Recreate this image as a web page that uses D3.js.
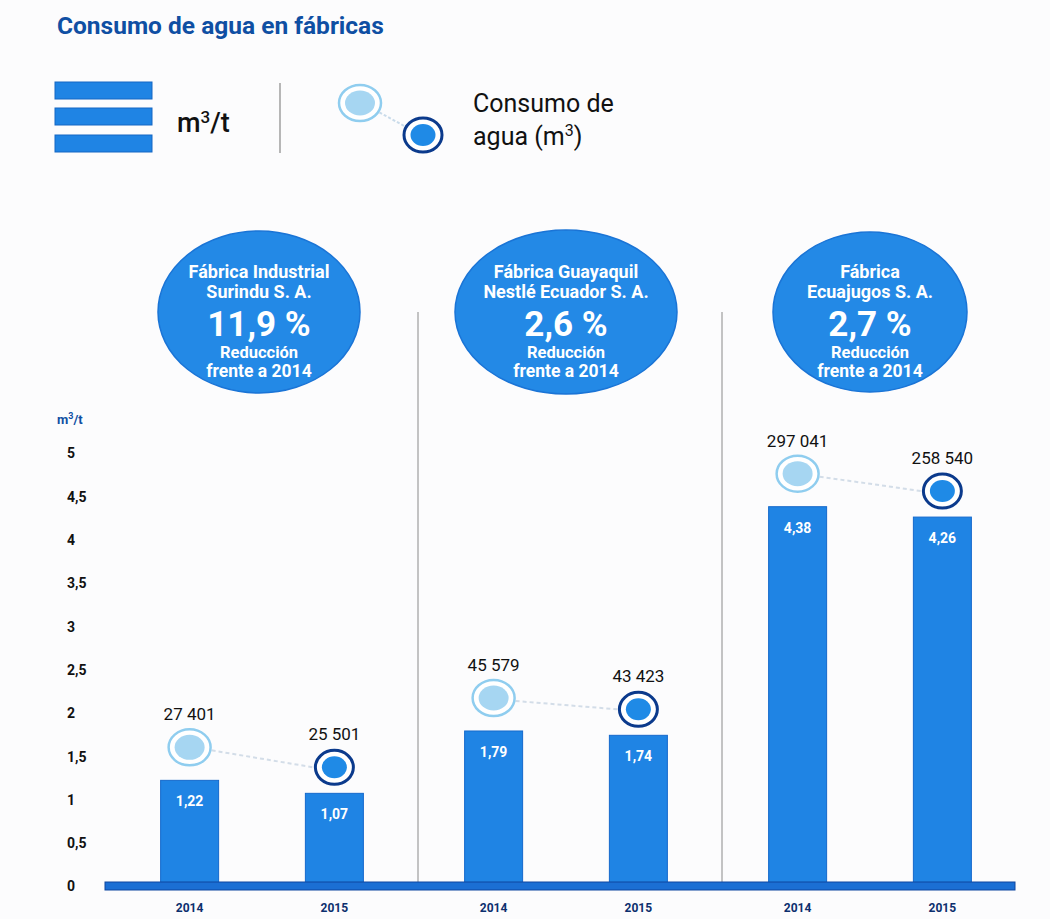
<!DOCTYPE html>
<html><head><meta charset="utf-8">
<script src="https://cdn.jsdelivr.net/npm/d3@7/dist/d3.min.js"></script>
<style>
html,body{margin:0;padding:0;background:#fcfcfd;}
svg{display:block;}
</style></head>
<body>
<svg id="c" width="1050" height="919"></svg>
<script>
// ---- data ----
const factories = ["Surindu", "Guayaquil", "Ecuajugos"];
const factoryNameLines = [
  ["Fábrica Industrial", "Surindu S. A."],
  ["Fábrica Guayaquil", "Nestlé Ecuador S. A."],
  ["Fábrica", "Ecuajugos S. A."]
];
const reductions = ["11,9 %", "2,6 %", "2,7 %"];
const years = ["2014", "2015"];
const ratio2014 = [1.22, 1.79, 4.38];
const ratio2015 = [1.07, 1.74, 4.26];
const water2014 = [27401, 45579, 297041];
const water2015 = [25501, 43423, 258540];
const yTicks = [0, 0.5, 1, 1.5, 2, 2.5, 3, 3.5, 4, 4.5, 5];

// ---- layout ----
const svg = d3.select("#c");
const blue = "#1f84e4", navy = "#0b3a8c", titleBlue = "#0f4fa3";
const sans = "Roboto, 'Liberation Sans', Arial, sans-serif";
const fmtNum = d => d3.format(",")(d).replace(/,/g, " ");
const fmtDec = d => d3.format(".2f")(d).replace(".", ",");
const fmtTick = d => String(d).replace(".", ",");

const y = d3.scaleLinear().domain([0, 5]).range([886, 453]);
const x0 = d3.scaleBand().domain(factories).range([110, 1022]);
const x1 = d3.scalePoint().domain(years).range([0, x0.bandwidth()]).padding(0.55);
const barW = 58;

// title
svg.append("text").attr("x", 57).attr("y", 34).attr("fill", titleBlue)
  .attr("font-family", sans).attr("font-weight", 700).attr("font-size", 24.5).text("Consumo de agua en fábricas");

// legend
const lg = svg.append("g");
[82, 108, 135].forEach(yy => {
  lg.append("rect").attr("x", 55).attr("y", yy).attr("width", 97).attr("height", 17)
    .attr("fill", blue).attr("stroke", "#1566c4").attr("stroke-width", 1);
});
lg.append("text").attr("x", 177).attr("y", 132).attr("font-family", sans).attr("font-size", 27)
  .attr("font-weight", 500).attr("fill", "#111").html('m<tspan dy="-9" font-size="17">3</tspan><tspan dy="9">/t</tspan>');
lg.append("line").attr("x1", 280).attr("x2", 280).attr("y1", 83).attr("y2", 153).attr("stroke", "#888").attr("stroke-width", 1.2);

function marker(g, cx, cy, kind) {
  if (kind === "2014") {
    g.append("ellipse").attr("cx", cx).attr("cy", cy).attr("rx", 21).attr("ry", 18)
      .attr("fill", "#fff").attr("stroke", "#8fcdef").attr("stroke-width", 2.5);
    g.append("ellipse").attr("cx", cx).attr("cy", cy).attr("rx", 15).attr("ry", 12.5).attr("fill", "#a6d6f2");
  } else {
    g.append("ellipse").attr("cx", cx).attr("cy", cy).attr("rx", 19).attr("ry", 17)
      .attr("fill", "#fff").attr("stroke", navy).attr("stroke-width", 3);
    g.append("ellipse").attr("cx", cx).attr("cy", cy).attr("rx", 12.5).attr("ry", 11).attr("fill", "#1f8ae6");
  }
}
lg.append("line").attr("x1", 375).attr("y1", 110).attr("x2", 408).attr("y2", 128)
  .attr("stroke", "#c9dbea").attr("stroke-width", 2).attr("stroke-dasharray", "3,2");
marker(lg, 360, 103, "2014");
marker(lg, 423, 135, "2015");
lg.append("text").attr("x", 473).attr("y", 112).attr("font-family", sans).attr("font-size", 25).attr("fill", "#111").text("Consumo de");
lg.append("text").attr("x", 473).attr("y", 145).attr("font-family", sans).attr("font-size", 25).attr("fill", "#111")
  .html('agua (m<tspan dy="-9" font-size="16">3</tspan><tspan dy="9">)</tspan>');

// y axis label + ticks
svg.append("text").attr("x", 57).attr("y", 424).attr("font-family", sans).attr("font-weight", 700)
  .attr("font-size", 13).attr("fill", titleBlue).html('m<tspan dy="-5" font-size="9">3</tspan><tspan dy="5">/t</tspan>');
const yAxis = d3.axisLeft(y).tickValues(yTicks).tickFormat(fmtTick).tickSize(0);
const ya = svg.append("g").attr("transform", "translate(67,0)").call(yAxis);
ya.select(".domain").remove();
ya.selectAll("text").attr("text-anchor", "start").attr("x", 0).attr("dy", "0.35em")
  .attr("font-family", sans).attr("font-weight", 700).attr("font-size", 14).attr("fill", "#111");

// separators
[1, 2].forEach(i => {
  const xx = x0(factories[i]);
  svg.append("line").attr("x1", xx + 4).attr("x2", xx + 4).attr("y1", 312).attr("y2", 884)
    .attr("stroke", "#8a8a8a").attr("stroke-width", 1);
});

// bubbles
const bubbleDx = [-3, 0, 0];
const bubbleR = [[101, 81], [111, 82], [97, 80]];
factories.forEach((f, i) => {
  const cx = x0(f) + x0.bandwidth() / 2 + bubbleDx[i];
  const cy = 312;
  const g = svg.append("g");
  g.append("ellipse").attr("cx", cx).attr("cy", cy).attr("rx", bubbleR[i][0]).attr("ry", bubbleR[i][1])
    .attr("fill", "#2389e6").attr("stroke", "#1a74d6").attr("stroke-width", 1.5);
  const t = (yy, txt, size) => g.append("text").attr("x", cx).attr("y", yy).attr("text-anchor", "middle")
    .attr("fill", "#fff").attr("font-family", sans).attr("font-weight", 700).attr("font-size", size).text(txt);
  t(278, factoryNameLines[i][0], 18);
  t(298, factoryNameLines[i][1], 18);
  t(336, reductions[i], 35);
  t(358, "Reducción", 16.5);
  t(377, "frente a 2014", 17.5);
});

// bars + markers
const rows = [];
factories.forEach((f, i) => {
  rows.push({ f, year: "2014", r: ratio2014[i], w: water2014[i] });
  rows.push({ f, year: "2015", r: ratio2015[i], w: water2015[i] });
});
const cxOf = d => x0(d.f) + x1(d.year);
const markerY = d => y(d.r) - (d.year === "2014" ? 33 : 26);

svg.append("g").selectAll("rect").data(rows).join("rect")
  .attr("x", d => cxOf(d) - barW / 2).attr("width", barW)
  .attr("y", d => y(d.r)).attr("height", d => y(0) - y(d.r))
  .attr("fill", blue).attr("stroke", "#1569cc").attr("stroke-width", 1);

svg.append("g").selectAll("text").data(rows).join("text")
  .attr("x", cxOf).attr("y", d => y(d.r) + 26).attr("text-anchor", "middle")
  .attr("fill", "#fff").attr("font-family", sans).attr("font-weight", 700).attr("font-size", 14)
  .text(d => fmtDec(d.r));

// connectors
factories.forEach((f, i) => {
  const a = rows[2 * i], b = rows[2 * i + 1];
  svg.append("line").attr("x1", cxOf(a) + 22).attr("y1", markerY(a) + 3)
    .attr("x2", cxOf(b) - 21).attr("y2", markerY(b))
    .attr("stroke", "#d3dde8").attr("stroke-width", 2).attr("stroke-dasharray", "4,3");
});
const mg = svg.append("g");
rows.forEach(d => marker(mg, cxOf(d), markerY(d), d.year));
svg.append("g").selectAll("text").data(rows).join("text")
  .attr("x", cxOf).attr("y", d => markerY(d) - 27).attr("text-anchor", "middle")
  .attr("fill", "#111").attr("font-family", sans).attr("font-size", 17)
  .text(d => fmtNum(d.w));

// baseline
svg.append("rect").attr("x", 105).attr("y", 882).attr("width", 910).attr("height", 8)
  .attr("fill", "#1b6fd4").attr("stroke", "#0e47a0").attr("stroke-width", 1);

// x labels
svg.append("g").selectAll("text").data(rows).join("text")
  .attr("x", cxOf).attr("y", 912).attr("text-anchor", "middle")
  .attr("fill", "#0d2f6e").attr("font-family", sans).attr("font-weight", 700).attr("font-size", 12)
  .text(d => d.year);
</script>
</body></html>
